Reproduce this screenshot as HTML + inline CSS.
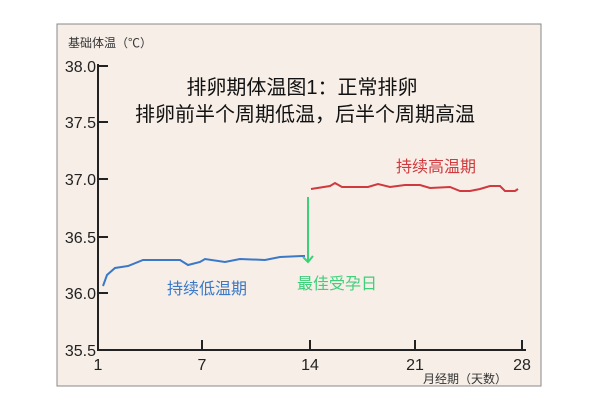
<!DOCTYPE html>
<html><head><meta charset="utf-8"><style>
body{margin:0;background:#fff;width:600px;height:400px;overflow:hidden;font-family:"Liberation Sans","Noto Sans CJK SC",sans-serif}
</style></head><body>
<svg width="600" height="400" xmlns="http://www.w3.org/2000/svg" style="position:absolute;left:0;top:0">
<rect x="57" y="24" width="484" height="362" fill="#f6eee7" stroke="#888" stroke-width="1"/>
<text x="68" y="47" font-size="12" fill="#333" font-family="Noto Sans CJK SC,sans-serif">基础体温（℃）</text>
<g stroke="#222" stroke-width="2" fill="none">
<line x1="98" y1="64" x2="98" y2="351"/>
<line x1="97" y1="350" x2="526" y2="350"/>
<line x1="98" y1="66" x2="108" y2="66"/><line x1="98" y1="122" x2="108" y2="122"/>
<line x1="98" y1="179" x2="108" y2="179"/><line x1="98" y1="237" x2="108" y2="237"/>
<line x1="98" y1="293" x2="108" y2="293"/>
<line x1="202" y1="340" x2="202" y2="350"/><line x1="310" y1="340" x2="310" y2="350"/>
<line x1="415" y1="340" x2="415" y2="350"/><line x1="522" y1="340" x2="522" y2="350"/>
</g>
<g font-size="16" fill="#222" text-anchor="end">
<text x="96" y="72">38.0</text><text x="96" y="128">37.5</text><text x="96" y="185">37.0</text>
<text x="96" y="243">36.5</text><text x="96" y="299">36.0</text><text x="96" y="356">35.5</text>
</g>
<g font-size="16" fill="#222" text-anchor="middle">
<text x="98" y="370">1</text><text x="202" y="370">7</text><text x="310" y="370">14</text>
<text x="415" y="370">21</text><text x="522" y="370">28</text>
</g>
<text x="423" y="383" font-size="12" fill="#333">月经期（天数）</text>
<g font-size="20" fill="#111" text-anchor="middle">
<text x="302" y="94">排卵期体温图1：正常排卵</text>
<text x="305" y="121">排卵前半个周期低温，后半个周期高温</text>
</g>
<polyline fill="none" stroke="#3a78c8" stroke-width="2" points="103,286 107,275 115,268 128,266 143,260 180,260 188,265 200,262 205,259 225,262 240,259 265,260 280,257 302,256 305,256"/>
<polyline fill="none" stroke="#d0393d" stroke-width="2" points="311,189 330,186 335,183 342,187 368,187 378,184 390,187 405,185 420,185 430,188 450,187 460,191 470,191 480,189 490,186 500,186 505,191 515,191 518,189"/>
<g stroke="#3ecf7a" stroke-width="2" fill="none"><line x1="308" y1="197" x2="308" y2="262"/><polyline points="303,257 308,262 313,256"/></g>
<text x="167" y="294" font-size="16" fill="#3a78c8">持续低温期</text>
<text x="297" y="289" font-size="16" fill="#3ecf7a">最佳受孕日</text>
<text x="396" y="172" font-size="16" fill="#d0393d">持续高温期</text>
</svg>
</body></html>
